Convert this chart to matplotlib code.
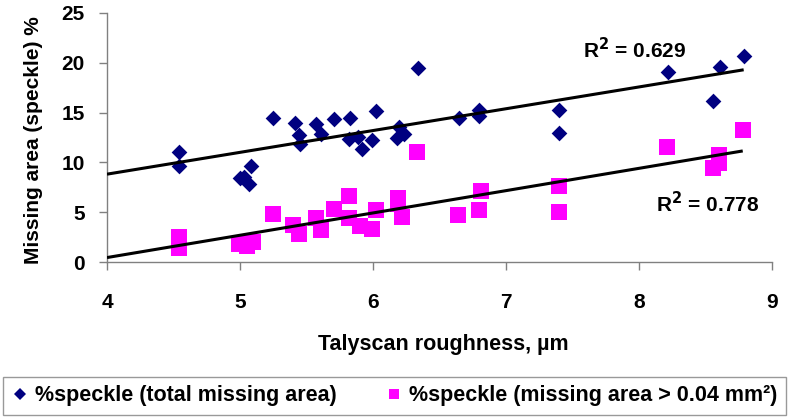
import numpy as np
import matplotlib
matplotlib.use("Agg")
import matplotlib.pyplot as plt
from matplotlib.lines import Line2D

plt.rcParams['font.family'] = ['Liberation Sans', 'DejaVu Sans']
plt.rcParams['font.weight'] = 'bold'

# total missing area (%speckle)
x_total = [4.54, 4.54, 5.00, 5.03, 5.065, 5.085, 5.25, 5.41, 5.44, 5.45, 5.57, 5.61,
           5.71, 5.825, 5.82, 5.89, 5.92, 5.995, 6.025, 6.195, 6.18, 6.23, 6.34,
           6.647, 6.80, 6.80, 7.40, 7.40, 8.218, 8.556, 8.607, 8.787]
y_total = [11.0, 9.6, 8.43, 8.5, 7.86, 9.6, 14.46, 14.0, 12.78, 11.88, 13.9, 12.88,
           14.35, 14.46, 12.35, 12.6, 11.38, 12.2, 15.19, 13.6, 12.5, 12.85, 19.48,
           14.46, 15.29, 14.69, 15.29, 13.0, 19.04, 16.2, 19.54, 20.64]

# missing area > 0.04 mm²
x_large = [4.54, 4.54, 4.99, 5.05, 5.10, 5.25, 5.40, 5.44, 5.57, 5.61, 5.71, 5.82,
           5.82, 5.90, 5.99, 6.02, 6.19, 6.19, 6.22, 6.33, 6.64, 6.81, 6.80, 7.40,
           7.40, 8.21, 8.556, 8.60, 8.60, 8.78]
y_large = [2.5, 1.4, 1.8, 1.6, 2.0, 4.85, 3.75, 2.8, 4.42, 3.24, 5.32, 6.59,
           4.42, 3.57, 3.3, 5.18, 6.42, 5.85, 4.52, 11.0, 4.68, 7.09, 5.18, 7.59,
           4.98, 11.5, 9.44, 10.77, 9.94, 13.28]

r2_labels = ["R$^2$ = 0.629", "R$^2$ = 0.778"]
series_labels = ["%speckle (total missing area)", "%speckle (missing area > 0.04 mm²)"]
xticks = [4, 5, 6, 7, 8, 9]
yticks = [0, 5, 10, 15, 20, 25]

W, H = 788, 417
fig = plt.figure(figsize=(W/100, H/100), dpi=100)
ax = fig.add_axes([107/W, 1-262/H, (772-107)/W, (262-13)/H])

ax.scatter(x_total, y_total, marker='D', s=64, color='#000080', linewidths=0, zorder=3)
ax.scatter(x_large, y_large, marker='s', s=125, color='#FF00FF', linewidths=0, zorder=3)

for xs, ys in [(x_total, y_total), (x_large, y_large)]:
    p = np.polyfit(xs, ys, 1)
    xl = np.array([4.0, max(xs)])
    ax.plot(xl, np.polyval(p, xl), color='black', lw=2.2, zorder=4,
            solid_capstyle='butt')

ax.text(7.577, 20.5, r2_labels[0], fontsize=15, fontweight='bold', ha='left', va='baseline')
ax.text(8.13, 4.95, r2_labels[1], fontsize=15, fontweight='bold', ha='left', va='baseline')

ax.set_xlim(4, 9)
ax.set_ylim(0, 25)
ax.set_xticks(xticks)
ax.set_yticks(yticks)
for s in ['top', 'right']:
    ax.spines[s].set_visible(False)
for s in ['left', 'bottom']:
    ax.spines[s].set_color('#808080')
    ax.spines[s].set_linewidth(1.0)
ax.tick_params(axis='both', direction='out', length=6, color='#808080',
               labelsize=15, width=1)
ax.tick_params(axis='x', pad=16)
ax.tick_params(axis='y', pad=10)
for lab in ax.get_xticklabels() + ax.get_yticklabels():
    lab.set_fontweight('bold')

fig.text((107+772)/2/W + 0.005, 1-350/H, "Talyscan roughness, µm", fontsize=15.5,
         fontweight='bold', ha='center', va='baseline')
fig.text(34/W, 1-140/H, "Missing area (speckle) %", fontsize=15, fontweight='bold',
         ha='center', va='center', rotation=90)

handles = [Line2D([], [], marker='D', ls='none', color='#000080', markersize=6.5, mew=0),
           Line2D([], [], marker='s', ls='none', color='#FF00FF', markersize=7.5, mew=0)]
leg = fig.legend(handles, series_labels, loc='lower left',
                 bbox_to_anchor=(3/W, 2/H, 783/W, 37/H), mode='expand', ncol=2,
                 frameon=True, fancybox=False, edgecolor='#808080', handletextpad=0.3,
                 columnspacing=0.4, borderpad=0.4, handlelength=0.8, borderaxespad=0,
                 prop={'weight': 'bold', 'size': 15.5})
leg.get_frame().set_linewidth(1.0)

fig.savefig("out.png", dpi=100)
